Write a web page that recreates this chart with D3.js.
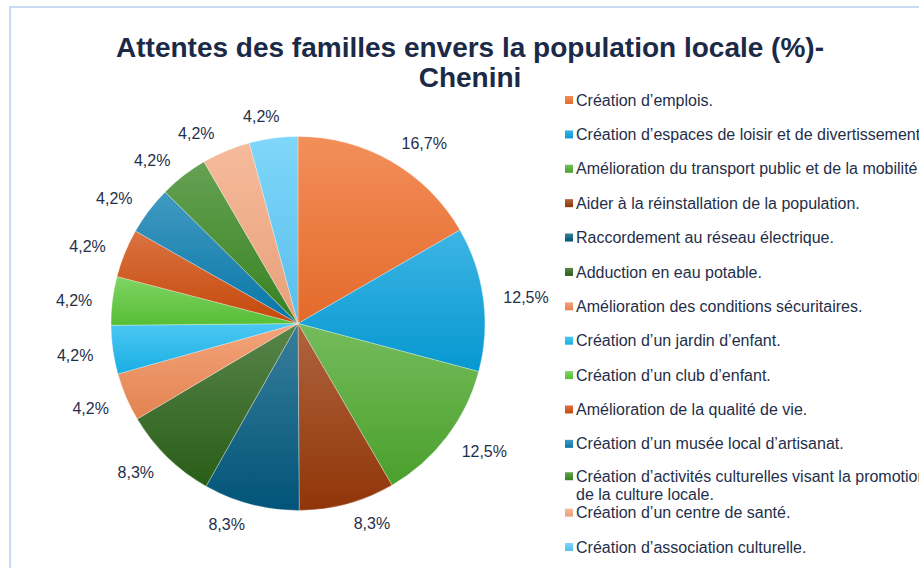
<!DOCTYPE html>
<html>
<head>
<meta charset="utf-8">
<script src="https://cdn.jsdelivr.net/npm/d3@7"></script>
<style>
  body { margin: 0; background: #fff; }
  svg { display: block; font-family: "Liberation Sans", Arial, sans-serif; }
</style>
</head>
<body>
<div class="stage"></div>
<script>
// chart size
var width = 919;
var height = 568;

// data
var categories = [
  "Création d\u2019emplois.",
  "Création d\u2019espaces de loisir et de divertissement.",
  "Amélioration du transport public et de la mobilité.",
  "Aider à la réinstallation de la population.",
  "Raccordement au réseau électrique.",
  "Adduction en eau potable.",
  "Amélioration des conditions sécuritaires.",
  "Création d\u2019un jardin d\u2019enfant.",
  "Création d\u2019un club d\u2019enfant.",
  "Amélioration de la qualité de vie.",
  "Création d\u2019un musée local d\u2019artisanat.",
  "Création d\u2019activités culturelles visant la promotion|de la culture locale.",
  "Création d\u2019un centre de santé.",
  "Création d\u2019association culturelle."
];
var values = [16.7, 12.5, 12.5, 8.3, 8.3, 8.3, 4.2, 4.2, 4.2, 4.2, 4.2, 4.2, 4.2, 4.2];
var labels = ["16,7%", "12,5%", "12,5%", "8,3%", "8,3%", "8,3%", "4,2%", "4,2%",
              "4,2%", "4,2%", "4,2%", "4,2%", "4,2%", "4,2%"];
var colors = ["#f0702c", "#06a0dc", "#4ea92e", "#983808", "#01597f", "#2a6218",
              "#f08a55", "#1ab8f0", "#5cc838", "#d04c0c", "#0a7db0", "#3a8822",
              "#f4a880", "#5ccaf8"];

// small angle nudges (degrees) for the data labels, like the spreadsheet's best fit
var labelNudge = [5, 1, -3, -5, 5, 3, 1, 0, -1, -2, -3, -4, -5.5, -2.5];

var svg = d3.select('.stage')
  .append('svg')
  .attr('width', width)
  .attr('height', height);

// frame
svg.append('rect')
  .attr('x', 10).attr('y', 7)
  .attr('width', width + 20).attr('height', height + 20)
  .attr('fill', 'none')
  .attr('stroke', '#c8daf2')
  .attr('stroke-width', 2);

// title
var title = svg.append('text')
  .attr('text-anchor', 'middle')
  .attr('fill', '#1b2a47')
  .attr('font-weight', 'bold')
  .attr('font-size', 28);
title.append('tspan').attr('x', 470).attr('y', 57)
  .text('Attentes des familles envers la population locale (%)-');
title.append('tspan').attr('x', 470).attr('y', 87)
  .text('Chenini');

// gradients, lighter at top, darker at bottom
var defs = svg.append('defs');
colors.forEach(function(c, i) {
  var g = defs.append('linearGradient')
    .attr('id', 'g' + i)
    .attr('x1', 0).attr('y1', 0).attr('x2', 0).attr('y2', 1);
  g.append('stop').attr('offset', '0%')
    .attr('stop-color', d3.interpolateRgb(c, '#ffffff')(0.22));
  g.append('stop').attr('offset', '100%')
    .attr('stop-color', d3.rgb(c).darker(0.15));
});

// PIE
var cx = 298, cy = 323.5, r = 187;
var pie = d3.pie().sort(null).value(function(d) { return d; });
var arcs = pie(values);
var arc = d3.arc().innerRadius(0).outerRadius(r);

var g = svg.append('g').attr('transform', 'translate(' + cx + ',' + cy + ')');

g.selectAll('path')
  .data(arcs)
  .enter()
  .append('path')
  .attr('d', arc)
  .attr('fill', function(d, i) { return 'url(#g' + i + ')'; })
  .attr('stroke', '#ffffff')
  .attr('stroke-width', 0.5)
  .attr('stroke-opacity', 0.6);

// labels: text box pushed out from the rim
g.selectAll('text')
  .data(arcs)
  .enter()
  .append('text')
  .attr('text-anchor', 'middle')
  .attr('dy', '0.35em')
  .attr('font-size', 16)
  .attr('fill', '#1f2f4a')
  .text(function(d, i) { return labels[i]; })
  .each(function(d, i) {
    var hw = this.getComputedTextLength() / 2;
    var a = (d.startAngle + d.endAngle) / 2 + labelNudge[i] * Math.PI / 180;
    var dist = r + 20 + Math.abs(Math.sin(a)) * hw;
    d3.select(this)
      .attr('x', Math.sin(a) * dist)
      .attr('y', -Math.cos(a) * dist);
  });

// LEGEND
var legend = svg.append('g');
var rowY = d3.scaleLinear().domain([0, 13]).range([100, 547]);

var items = legend.selectAll('g')
  .data(categories)
  .enter()
  .append('g')
  .attr('transform', function(d, i) {
    var y = rowY(i);
    if (d.indexOf('|') >= 0) y -= 2;
    return 'translate(565,' + y + ')';
  });

items.append('rect')
  .attr('x', 0).attr('y', -4)
  .attr('width', 8).attr('height', 8)
  .attr('fill', function(d, i) { return 'url(#g' + i + ')'; });

items.append('text')
  .attr('font-size', 16)
  .attr('fill', '#1f2f4a')
  .each(function(d) {
    var t = d3.select(this);
    d.split('|').forEach(function(line, k) {
      t.append('tspan')
        .attr('x', 11)
        .attr('y', k * 18)
        .attr('dy', '0.35em')
        .text(line);
    });
  });
</script>
</body>
</html>
